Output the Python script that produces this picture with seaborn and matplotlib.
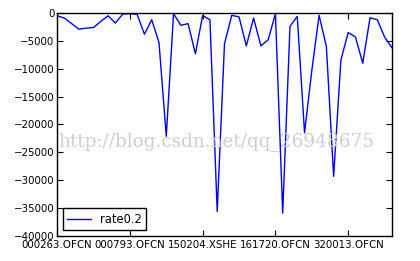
import numpy as np
import pandas as pd
import matplotlib
matplotlib.use("Agg")
import matplotlib.pyplot as plt
import seaborn as sns

# ---- data ----
series_name = "rate0.2"
values = [
    -500, -900, -1900, -2900, -2700, -2600, -1500, -500, -1800, -200,
    -100, -250, -3800, -1200, -5300, -22100, -100, -2200, -1900, -7300,
    -450, -1200, -35600, -5500, -400, -700, -5900, -900, -5900, -4800,
    -150, -35900, -2400, -600, -21500, -10300, -400, -6000, -29300, -8400,
    -3500, -4300, -9000, -850, -1200, -4300, -6200,
]
tick_labels = ["000263.OFCN", "000793.OFCN", "150204.XSHE",
               "161720.OFCN", "320013.OFCN"]
y_ticks = [0, -5000, -10000, -15000, -20000, -25000, -30000, -35000, -40000]

df = pd.DataFrame({"pos": np.arange(len(values)), "value": values,
                   "series": series_name})

plt.rcParams.update({
    "font.family": ["DejaVu Sans"],
    "xtick.direction": "in",
    "ytick.direction": "in",
    "xtick.top": True,
    "ytick.right": True,
    "xtick.major.size": 4,
    "ytick.major.size": 4,
    "axes.linewidth": 1.0,
})

fig = plt.figure(figsize=(4.2, 2.61), dpi=100)
ax = fig.add_axes([0.136, 0.096, 0.797, 0.854])

sns.lineplot(data=df, x="pos", y="value", hue="series", palette=["#0000ff"],
             linewidth=1.0, ax=ax, legend=True)

ax.set_xlim(0, len(values) - 1)
ax.set_ylim(-40000, 0)
ax.set_xticks(np.arange(0, len(values), 10))
ax.set_xticklabels(tick_labels, fontsize=7.4)
ax.set_yticks(y_ticks)
ax.set_yticklabels([f"\u2212{abs(v)}" if v < 0 else str(v) for v in y_ticks],
                   fontsize=7.4)
ax.tick_params(axis="x", which="both", pad=3, colors="black")
ax.tick_params(axis="y", which="both", pad=2, colors="black")
ax.set_xlabel("")
ax.set_ylabel("")
for s in ax.spines.values():
    s.set_color("black")

leg = ax.legend(loc="lower left", fontsize=8.3, frameon=True, fancybox=False,
                edgecolor="black", framealpha=1, handlelength=2.0,
                borderaxespad=0.5)
leg.get_frame().set_linewidth(1.0)

fig.text(0.138, 0.458, "http://blog.csdn.net/qq_26948675",
         family="DejaVu Serif", fontsize=13.3, color="#cfcfcf",
         va="center", ha="left", zorder=0)

fig.savefig("out.png", dpi=100, facecolor="white")
